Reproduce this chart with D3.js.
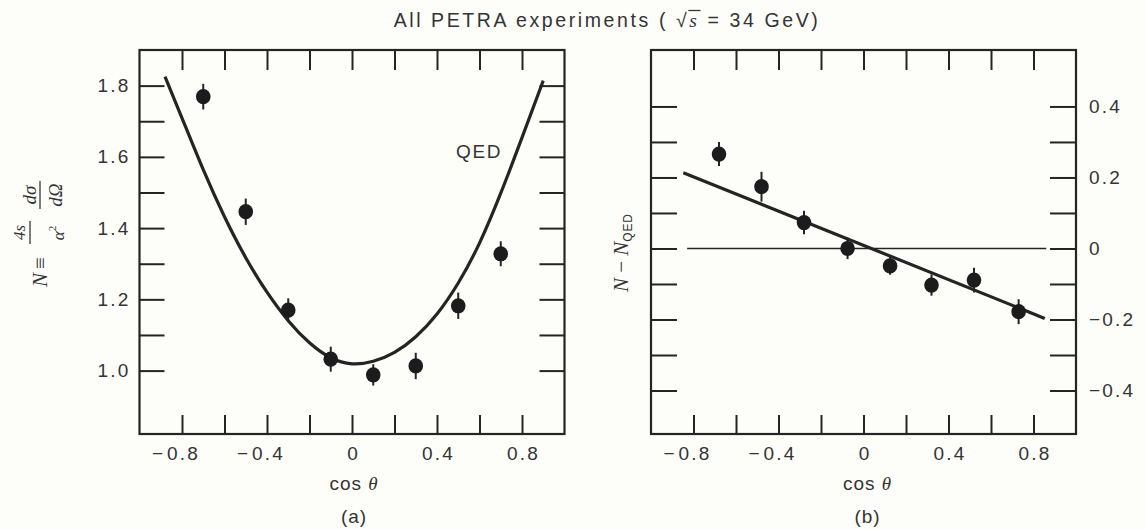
<!DOCTYPE html>
<html>
<head>
<meta charset="utf-8">
<script src="https://cdn.jsdelivr.net/npm/d3@7/dist/d3.min.js"></script>
<style>
  html, body { margin: 0; padding: 0; background: #fdfdfa; }
  svg { display: block; }
  text { fill: #333; }
</style>
</head>
<body>
<svg id="chart" width="1146" height="529"></svg>
<script>
// ---------------- data ----------------
const titleText = "All PETRA experiments (";
const xTickValues = [-0.8, -0.6, -0.4, -0.2, 0, 0.2, 0.4, 0.6, 0.8];
const xTickLabels = [-0.8, -0.4, 0, 0.4, 0.8];

// panel (a)
const aCos  = [-0.7, -0.5, -0.3, -0.1, 0.1, 0.3, 0.5, 0.7];
const aN    = [1.769, 1.446, 1.170, 1.032, 0.988, 1.013, 1.182, 1.328];
const aErr  = [0.036, 0.037, 0.033, 0.035, 0.030, 0.037, 0.037, 0.035];
const qedCos = [-0.88, -0.8, -0.7, -0.6, -0.5, -0.4, -0.3, -0.2, -0.1, 0, 0.1, 0.2, 0.3, 0.4, 0.5, 0.6, 0.7, 0.8, 0.9];
const qedN   = [1.825, 1.709, 1.564, 1.432, 1.317, 1.22, 1.14, 1.078, 1.036, 1.019, 1.026, 1.051, 1.095, 1.159, 1.246, 1.358, 1.498, 1.654, 1.814];
const aYTicks  = [1.0, 1.1, 1.2, 1.3, 1.4, 1.5, 1.6, 1.7, 1.8];
const aYLabels = [1.0, 1.2, 1.4, 1.6, 1.8];
const aYDomain = [0.822, 1.900];

// panel (b)
const bCos = [-0.68, -0.48, -0.28, -0.075, 0.125, 0.32, 0.52, 0.73];
const bDN  = [0.266, 0.174, 0.073, 0.0, -0.049, -0.103, -0.089, -0.178];
const bErr = [0.034, 0.042, 0.033, 0.030, 0.025, 0.030, 0.035, 0.035];
const fitCos = [-0.848, 0.853];
const fitDN  = [0.2135, -0.197];
const zeroCos = [-0.83, 0.86];
const bYTicks  = [-0.4, -0.3, -0.2, -0.1, 0, 0.1, 0.2, 0.3, 0.4];
const bYLabels = [-0.4, -0.2, 0, 0.2, 0.4];
const bYDomain = [-0.5225, 0.559];

// ---------------- drawing ----------------
const svg = d3.select("#chart");
const INK = "#242424";
const TXT = "#383838";
const SANS = "'Liberation Sans', Arial, Helvetica, sans-serif";
const SERIF = "'Liberation Serif', 'Times New Roman', serif";
const FS = 19;
const LS = 2.2;

svg.append("rect").attr("width", 1146).attr("height", 529).attr("fill", "#fdfdfa");

function fmt(v) {
  if (v === 0) return "0";
  return Math.abs(v).toFixed(1);
}

function panel(cfg) {
  const x = d3.scaleLinear().domain([-1, 1]).range([cfg.x0, cfg.x1]);
  const y = d3.scaleLinear().domain(cfg.yDomain).range([cfg.y1, cfg.y0]);
  const g = svg.append("g");

  const xb = g.append("g").attr("transform", `translate(0,${cfg.y1})`)
    .call(d3.axisBottom(x).tickValues(xTickValues).tickSize(-19).tickFormat(""));
  const xt = g.append("g").attr("transform", `translate(0,${cfg.y0})`)
    .call(d3.axisTop(x).tickValues(xTickValues).tickSize(-20).tickFormat(""));
  const yl = g.append("g").attr("transform", `translate(${cfg.x0},0)`)
    .call(d3.axisLeft(y).tickValues(cfg.yTicks).tickSize(-cfg.tickLenY).tickFormat(""));
  const yr = g.append("g").attr("transform", `translate(${cfg.x1},0)`)
    .call(d3.axisRight(y).tickValues(cfg.yTicks).tickSize(-cfg.tickLenY).tickFormat(""));
  [xb, xt, yl, yr].forEach(a => {
    a.select(".domain").remove();
    a.selectAll(".tick line").attr("stroke", INK).attr("stroke-width", 2);
  });

  g.append("rect").attr("x", cfg.x0).attr("y", cfg.y0)
    .attr("width", cfg.x1 - cfg.x0).attr("height", cfg.y1 - cfg.y0)
    .attr("fill", "none").attr("stroke", INK).attr("stroke-width", 2.2);

  // x labels
  const xlab = g.append("g").attr("transform", `translate(0,${cfg.y1})`)
    .call(d3.axisBottom(x).tickValues(xTickLabels).tickSize(0).tickPadding(13).tickFormat(fmt));
  xlab.select(".domain").remove();
  xlab.selectAll("text").attr("font-family", SANS).attr("font-size", FS)
    .attr("letter-spacing", LS).attr("fill", TXT).attr("dx", LS / 2);
  xlab.selectAll(".tick").each(function(d) {
    if (d < 0) {
      const t = d3.select(this).select("text");
      const w = t.node().getComputedTextLength();
      d3.select(this).append("text")
        .attr("x", -w / 2 - 3).attr("y", 13).attr("dy", "0.71em")
        .attr("text-anchor", "end").attr("font-family", SANS).attr("font-size", FS)
        .attr("fill", TXT).text("\u2212");
    }
  });

  // y labels
  let ylab;
  if (cfg.labelSide === "left") {
    ylab = g.append("g").attr("transform", `translate(${cfg.x0},0)`)
      .call(d3.axisLeft(y).tickValues(cfg.yLabels).tickSize(0).tickPadding(9).tickFormat(d => d.toFixed(1)));
  } else {
    ylab = g.append("g").attr("transform", `translate(${cfg.x1},0)`)
      .call(d3.axisRight(y).tickValues(cfg.yLabels).tickSize(0).tickPadding(13)
        .tickFormat(d => d === 0 ? "0" : (d < 0 ? "\u2212" : "") + Math.abs(d).toFixed(1)));
  }
  ylab.select(".domain").remove();
  ylab.selectAll("text").attr("font-family", SANS).attr("font-size", FS)
    .attr("letter-spacing", LS).attr("fill", TXT);

  const xt2 = g.append("text").attr("x", x(0) + cfg.cosShift).attr("y", 490)
    .attr("text-anchor", "middle").attr("font-family", SANS).attr("font-size", FS)
    .attr("letter-spacing", 1);
  xt2.append("tspan").text("cos ");
  xt2.append("tspan").attr("font-family", SERIF).attr("font-style", "italic").text("\u03B8");
  g.append("text").attr("x", x(0) + cfg.cosShift).attr("y", 523)
    .attr("text-anchor", "middle").attr("font-family", SANS).attr("font-size", FS)
    .attr("letter-spacing", 1).text(cfg.tag);

  return { g, x, y };
}

function points(p, xs, ys, es) {
  const data = xs.map((c, i) => ({ c, v: ys[i], e: es[i] }));
  p.g.append("g").selectAll("line").data(data).join("line")
    .attr("x1", d => p.x(d.c)).attr("x2", d => p.x(d.c))
    .attr("y1", d => p.y(d.v - d.e)).attr("y2", d => p.y(d.v + d.e))
    .attr("stroke", INK).attr("stroke-width", 2);
  p.g.append("g").selectAll("ellipse").data(data).join("ellipse")
    .attr("cx", d => p.x(d.c)).attr("cy", d => p.y(d.v))
    .attr("rx", 7.3).attr("ry", 7.6).attr("fill", "#1c1c1c");
}

// panel (a)
const pa = panel({ x0: 139.5, x1: 564.5, y0: 50, y1: 434, yDomain: aYDomain,
  yTicks: aYTicks, yLabels: aYLabels, labelSide: "left", tickLenY: 25, tag: "(a)", cosShift: 2 });
const qedData = qedCos.map((c, i) => [c, qedN[i]]);
pa.g.append("path").datum(qedData)
  .attr("d", d3.line().x(d => pa.x(d[0])).y(d => pa.y(d[1])).curve(d3.curveNatural))
  .attr("fill", "none").attr("stroke", INK).attr("stroke-width", 3.2);
points(pa, aCos, aN, aErr);
pa.g.append("text").attr("x", 456).attr("y", 158).attr("font-family", SANS)
  .attr("font-size", FS).attr("letter-spacing", 1.6).attr("fill", TXT).text("QED");

// panel (b)
const pb = panel({ x0: 651, x1: 1076, y0: 50, y1: 434, yDomain: bYDomain,
  yTicks: bYTicks, yLabels: bYLabels, labelSide: "right", tickLenY: 26, tag: "(b)", cosShift: 4 });
pb.g.append("line")
  .attr("x1", pb.x(zeroCos[0])).attr("x2", pb.x(zeroCos[1]))
  .attr("y1", pb.y(0)).attr("y2", pb.y(0))
  .attr("stroke", INK).attr("stroke-width", 1.6);
const fitData = fitCos.map((c, i) => [c, fitDN[i]]);
pb.g.append("path").datum(fitData)
  .attr("d", d3.line().x(d => pb.x(d[0])).y(d => pb.y(d[1])))
  .attr("fill", "none").attr("stroke", INK).attr("stroke-width", 3.2);
points(pb, bCos, bDN, bErr);

// title
const title = svg.append("text").attr("x", 607).attr("y", 27)
  .attr("text-anchor", "middle").attr("font-family", SANS).attr("font-size", 19.5)
  .attr("letter-spacing", 2.6).attr("fill", TXT);
title.append("tspan").text(titleText + " ");
title.append("tspan").text("\u221A");
const sSpan = title.append("tspan").attr("font-family", SERIF).attr("font-style", "italic").text("s");
title.append("tspan").text("  = 34 GeV)");
{
  const n = sSpan.node();
  const ext = n.getExtentOfChar(0);
  svg.append("line")
    .attr("x1", ext.x - 1).attr("x2", ext.x + ext.width + 1)
    .attr("y1", 10.5).attr("y2", 10.5)
    .attr("stroke", TXT).attr("stroke-width", 1.3);
}

// left y-axis label: N ≡ (4s/α²)(dσ/dΩ), rotated
{
  const g = svg.append("g").attr("transform", "rotate(-90)");
  const it = s => s.attr("font-family", SERIF).attr("font-style", "italic").attr("fill", TXT);
  it(g.append("text").attr("x", -280).attr("y", 47).attr("text-anchor", "middle").attr("font-size", 21)).text("N");
  g.append("text").attr("x", -263).attr("y", 47).attr("text-anchor", "middle")
    .attr("font-family", SERIF).attr("font-size", 21).attr("fill", TXT).text("\u2261");
  it(g.append("text").attr("x", -232.5).attr("y", 25).attr("text-anchor", "middle").attr("font-size", 17)).text("4s");
  g.append("line").attr("x1", -244).attr("x2", -221).attr("y1", 30).attr("y2", 30)
    .attr("stroke", TXT).attr("stroke-width", 1.3);
  const al = it(g.append("text").attr("x", -233).attr("y", 64).attr("text-anchor", "middle").attr("font-size", 17));
  al.append("tspan").text("\u03B1");
  al.append("tspan").attr("font-size", 11).attr("dy", -8).attr("font-style", "normal").text("2");
  it(g.append("text").attr("x", -195).attr("y", 36).attr("text-anchor", "middle").attr("font-size", 19)).text("d\u03C3");
  g.append("line").attr("x1", -209).attr("x2", -181).attr("y1", 40).attr("y2", 40)
    .attr("stroke", TXT).attr("stroke-width", 1.3);
  it(g.append("text").attr("x", -195).attr("y", 62).attr("text-anchor", "middle").attr("font-size", 19)).text("d\u03A9");
}

// right y-axis label: N − N_QED, rotated
{
  const g = svg.append("g").attr("transform", "rotate(-90)");
  const t = g.append("text").attr("x", -292).attr("y", 628).attr("text-anchor", "start")
    .attr("font-family", SERIF).attr("font-size", 21).attr("fill", TXT);
  t.append("tspan").attr("font-style", "italic").text("N");
  t.append("tspan").text(" \u2212 ");
  t.append("tspan").attr("font-style", "italic").text("N");
  t.append("tspan").attr("font-family", SANS).attr("font-size", 12).attr("dy", 4)
    .attr("letter-spacing", 0.8).text("QED");
}
</script>
</body>
</html>
